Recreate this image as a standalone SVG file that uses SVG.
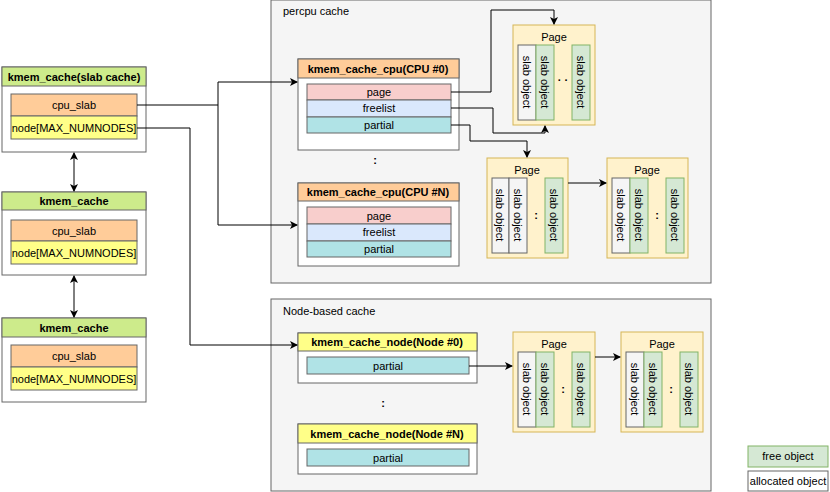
<svg xmlns="http://www.w3.org/2000/svg" width="830" height="492" viewBox="0 0 830 492">
<style>
text{font-family:"Liberation Sans",Arial,sans-serif;font-size:11px;fill:#000}
.c{text-anchor:middle;dominant-baseline:central}
.b{font-weight:bold}
.box{fill:#fff;stroke:#666}
.grp{fill:#f5f5f5;stroke:#666}
.gh{fill:#cdeb8b;stroke:#666}
.oh{fill:#ffcc99;stroke:#666}
.yh{fill:#ffff88;stroke:#666}
.pink{fill:#f8cecc;stroke:#666}
.blue{fill:#dae8fc;stroke:#666}
.teal{fill:#b0e3e6;stroke:#666}
.page{fill:#fff2cc;stroke:#d6b656}
.fo{fill:#d5e8d4;stroke:#82b366}
.ao{fill:#f5f5f5;stroke:#666}
.ln{fill:none;stroke:#000;stroke-width:1}
</style>
<defs>
<marker id="a" markerWidth="8" markerHeight="8" refX="7" refY="4" orient="auto" markerUnits="userSpaceOnUse"><path d="M0,0 L8,4 L0,8 L2,4 Z" fill="#000"/></marker>
<marker id="s" markerWidth="8" markerHeight="8" refX="1" refY="4" orient="auto" markerUnits="userSpaceOnUse"><path d="M8,0 L0,4 L8,8 L6,4 Z" fill="#000"/></marker>
</defs>

<g id="percpu"><rect class="grp" x="271" y="0" width="440" height="283"/><text x="283" y="15">percpu cache</text></g>
<g id="nodebased"><rect class="grp" x="271" y="299" width="440" height="192"/><text x="283" y="315">Node-based cache</text></g>

<g id="kc0"><rect class="box" x="2" y="67" width="144" height="85"/><rect class="gh" x="2" y="67" width="144" height="19"/><text class="c b" x="74" y="77">kmem_cache(slab cache)</text>
<rect class="oh" x="11" y="94" width="126" height="22"/><text class="c" x="74" y="105">cpu_slab</text>
<rect class="yh" x="11" y="116" width="126" height="23"/><text class="c" x="74" y="128">node[MAX_NUMNODES]</text></g>
<g id="kc1"><rect class="box" x="2" y="192" width="144" height="83"/><rect class="gh" x="2" y="192" width="144" height="18"/><text class="c b" x="74" y="201">kmem_cache</text>
<rect class="oh" x="11" y="220" width="126" height="21"/><text class="c" x="74" y="231">cpu_slab</text>
<rect class="yh" x="11" y="241" width="126" height="23"/><text class="c" x="74" y="253">node[MAX_NUMNODES]</text></g>
<g id="kc2"><rect class="box" x="2" y="318" width="144" height="84"/><rect class="gh" x="2" y="318" width="144" height="19"/><text class="c b" x="74" y="328">kmem_cache</text>
<rect class="oh" x="11" y="345" width="126" height="22"/><text class="c" x="74" y="356">cpu_slab</text>
<rect class="yh" x="11" y="367" width="126" height="23"/><text class="c" x="74" y="379">node[MAX_NUMNODES]</text></g>

<g id="cpu0"><rect class="box" x="298" y="59" width="161" height="91"/><rect class="oh" x="298" y="59" width="161" height="19"/><text class="c b" x="378" y="69">kmem_cache_cpu(CPU #0)</text>
<rect class="pink" x="307" y="84" width="144" height="16"/><text class="c" x="379" y="92">page</text>
<rect class="blue" x="307" y="100" width="144" height="17"/><text class="c" x="379" y="108">freelist</text>
<rect class="teal" x="307" y="117" width="144" height="16"/><text class="c" x="379" y="125">partial</text></g>
<text class="c b" x="375" y="160" font-size="14">:</text>
<g id="cpuN"><rect class="box" x="298" y="183" width="161" height="83"/><rect class="oh" x="298" y="183" width="161" height="18"/><text class="c b" x="378" y="192">kmem_cache_cpu(CPU #N)</text>
<rect class="pink" x="307" y="207" width="144" height="17"/><text class="c" x="379" y="216">page</text>
<rect class="blue" x="307" y="224" width="144" height="17"/><text class="c" x="379" y="232">freelist</text>
<rect class="teal" x="307" y="241" width="144" height="16"/><text class="c" x="379" y="249">partial</text></g>

<g id="node0"><rect class="box" x="298" y="333" width="179" height="50"/><rect class="yh" x="298" y="333" width="179" height="18"/><text class="c b" x="387" y="342">kmem_cache_node(Node #0)</text>
<rect class="teal" x="307" y="357" width="162" height="17"/><text class="c" x="388" y="366">partial</text></g>
<text class="c b" x="383" y="403" font-size="14">:</text>
<g id="nodeN"><rect class="box" x="298" y="424" width="179" height="50"/><rect class="yh" x="298" y="424" width="179" height="19"/><text class="c b" x="387" y="434">kmem_cache_node(Node #N)</text>
<rect class="teal" x="307" y="449" width="162" height="17"/><text class="c" x="388" y="458">partial</text></g>

<g id="page1"><rect class="page" x="513" y="25" width="82" height="100"/><text class="c" x="554" y="37">Page</text>
<rect class="ao" x="518" y="45" width="18" height="75"/><rect class="fo" x="536" y="45" width="18" height="75"/><rect class="fo" x="572" y="45" width="18" height="75"/>
<text class="c" transform="translate(527,82) rotate(90)">slab object</text><text class="c" transform="translate(545,82) rotate(90)">slab object</text><text class="c" transform="translate(581,82) rotate(90)">slab object</text>
<text class="c b" x="563" y="80">· ·</text></g>
<g id="page2"><rect class="page" x="487" y="158" width="81" height="100"/><text class="c" x="527" y="170">Page</text>
<rect class="ao" x="492" y="178" width="17" height="75"/><rect class="ao" x="509" y="178" width="18" height="75"/><rect class="fo" x="545" y="178" width="18" height="75"/>
<text class="c" transform="translate(500,215) rotate(90)">slab object</text><text class="c" transform="translate(518,215) rotate(90)">slab object</text><text class="c" transform="translate(554,215) rotate(90)">slab object</text>
<text class="c b" x="536" y="215">:</text></g>
<g id="page3"><rect class="page" x="607" y="158" width="81" height="100"/><text class="c" x="647" y="170">Page</text>
<rect class="ao" x="612" y="178" width="18" height="75"/><rect class="fo" x="630" y="178" width="18" height="75"/><rect class="fo" x="666" y="178" width="18" height="75"/>
<text class="c" transform="translate(621,215) rotate(90)">slab object</text><text class="c" transform="translate(639,215) rotate(90)">slab object</text><text class="c" transform="translate(675,215) rotate(90)">slab object</text>
<text class="c b" x="657" y="215">:</text></g>
<g id="page4"><rect class="page" x="513" y="332" width="82" height="100"/><text class="c" x="554" y="344">Page</text>
<rect class="ao" x="518" y="352" width="18" height="75"/><rect class="fo" x="536" y="352" width="18" height="75"/><rect class="fo" x="572" y="352" width="18" height="75"/>
<text class="c" transform="translate(527,389) rotate(90)">slab object</text><text class="c" transform="translate(545,389) rotate(90)">slab object</text><text class="c" transform="translate(581,389) rotate(90)">slab object</text>
<text class="c b" x="563" y="389">:</text></g>
<g id="page5"><rect class="page" x="621" y="332" width="82" height="100"/><text class="c" x="662" y="344">Page</text>
<rect class="ao" x="626" y="352" width="18" height="75"/><rect class="fo" x="644" y="352" width="18" height="75"/><rect class="fo" x="680" y="352" width="18" height="75"/>
<text class="c" transform="translate(635,389) rotate(90)">slab object</text><text class="c" transform="translate(653,389) rotate(90)">slab object</text><text class="c" transform="translate(689,389) rotate(90)">slab object</text>
<text class="c b" x="671" y="389">:</text></g>

<g id="legend"><rect class="fo" x="748" y="446" width="80" height="21"/><text class="c" x="788" y="456">free object</text>
<rect class="box" x="748" y="471" width="80" height="20"/><text class="c" x="788" y="481">allocated object</text></g>

<g id="connectors">
<path class="ln" d="M74,153 V191" marker-start="url(#s)" marker-end="url(#a)"/>
<path class="ln" d="M74,276 V317" marker-start="url(#s)" marker-end="url(#a)"/>
<path class="ln" d="M137,105 H218 V82 H297" marker-end="url(#a)"/>
<path class="ln" d="M218,105 V225 H297" marker-end="url(#a)"/>
<path class="ln" d="M137,128 H190 V345 H297" marker-end="url(#a)"/>
<path class="ln" d="M451,92 H491 V10 H554 V24" marker-end="url(#a)"/>
<path class="ln" d="M451,108 H493 V133 H545 V126" marker-end="url(#a)"/>
<path class="ln" d="M451,125 H470 V141 H527 V157" marker-end="url(#a)"/>
<path class="ln" d="M568,183 H606" marker-end="url(#a)"/>
<path class="ln" d="M469,366 H512" marker-end="url(#a)"/>
<path class="ln" d="M595,357 H620" marker-end="url(#a)"/>
</g>
</svg>
